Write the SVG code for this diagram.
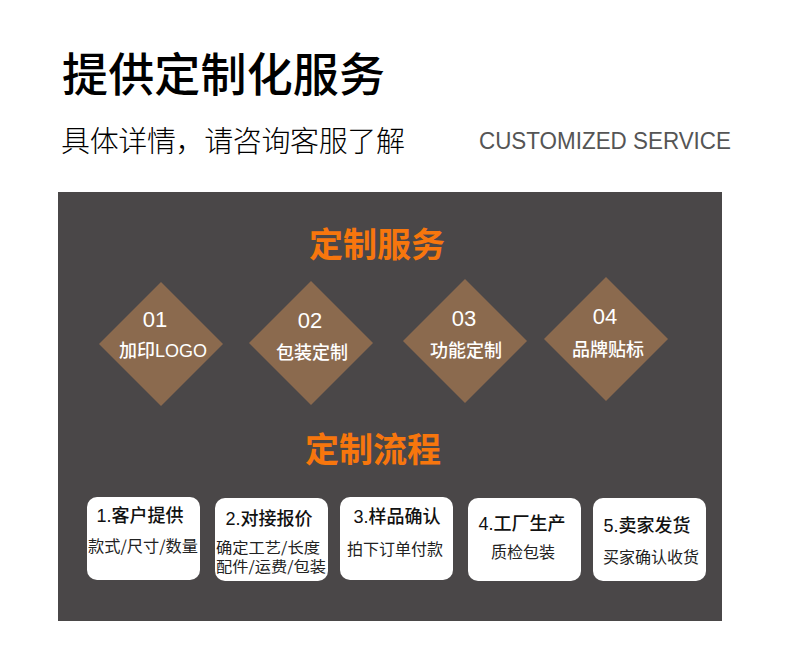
<svg xmlns="http://www.w3.org/2000/svg" width="790" height="671" viewBox="0 0 790 671">
<style>
.h1{font-family:"Noto Sans CJK SC",sans-serif;font-size:46px;font-weight:500;fill:#000}
.sub{font-family:"Noto Sans CJK SC",sans-serif;font-size:29px;font-weight:300;fill:#000}
.en{font-family:"Liberation Sans",Arial,sans-serif;font-size:23px;fill:#555}
.sec{font-family:"Noto Sans CJK SC",sans-serif;font-size:34px;font-weight:700;fill:#f7760d;text-anchor:middle}
.dia{fill:#8b6a4e}
.num{font-family:"Liberation Sans",Arial,sans-serif;font-size:22px;fill:#fff;text-anchor:middle}
.dl{font-family:"Liberation Sans","Noto Sans CJK SC",sans-serif;font-size:18px;font-weight:500;fill:#fff;text-anchor:middle}
.box{fill:#fff}
.bt{font-family:"Liberation Sans","Noto Sans CJK SC",sans-serif;font-size:18px;font-weight:500;fill:#111;text-anchor:middle}
.bd{font-family:"Noto Sans CJK SC",sans-serif;font-size:16px;font-weight:400;fill:#222;text-anchor:middle}
.bs{font-family:"Noto Sans CJK SC",sans-serif;font-size:15px;font-weight:400;fill:#222;text-anchor:middle}
</style>
<rect width="790" height="671" fill="#fff"/>
<text class="h1" x="62" y="91" textLength="323" lengthAdjust="spacing">提供定制化服务</text>
<text class="sub" x="61" y="152" textLength="344" lengthAdjust="spacing">具体详情，请咨询客服了解</text>
<text class="en" x="479" y="149" textLength="252" lengthAdjust="spacingAndGlyphs">CUSTOMIZED SERVICE</text>
<rect x="58" y="192" width="664" height="429" fill="#4a4748"/>
<text class="sec" x="377" y="257">定制服务</text>
<g id="d1"><polygon class="dia" points="161,282 223,344 161,406 99,344"/><text class="num" x="155" y="327">01</text><text class="dl" x="163" y="357">加印LOGO</text></g>
<g id="d2"><polygon class="dia" points="311,281 373,343 311,405 249,343"/><text class="num" x="310" y="328">02</text><text class="dl" x="312" y="359">包装定制</text></g>
<g id="d3"><polygon class="dia" points="465,279 527,341 465,403 403,341"/><text class="num" x="464" y="326">03</text><text class="dl" x="466" y="357">功能定制</text></g>
<g id="d4"><polygon class="dia" points="606,277 668,339 606,401 544,339"/><text class="num" x="605" y="324">04</text><text class="dl" x="608" y="356">品牌贴标</text></g>
<text class="sec" x="373" y="462">定制流程</text>
<g id="s1"><rect class="box" x="87" y="497" width="113" height="83" rx="10"/><text class="bt" x="140" y="522">1.客户提供</text><text class="bd" x="143" y="552" textLength="110" lengthAdjust="spacingAndGlyphs">款式/尺寸/数量</text></g>
<g id="s2"><rect class="box" x="215" y="498" width="113" height="83" rx="10"/><text class="bt" x="269" y="525">2.对接报价</text><text class="bs" x="268" y="553" textLength="104" lengthAdjust="spacingAndGlyphs">确定工艺/长度</text><text class="bs" x="271" y="572" textLength="110" lengthAdjust="spacingAndGlyphs">配件/运费/包装</text></g>
<g id="s3"><rect class="box" x="340" y="497" width="113" height="83" rx="10"/><text class="bt" x="397" y="523">3.样品确认</text><text class="bd" x="395" y="555">拍下订单付款</text></g>
<g id="s4"><rect class="box" x="468" y="498" width="113" height="83" rx="10"/><text class="bt" x="522" y="530">4.工厂生产</text><text class="bd" x="523" y="558">质检包装</text></g>
<g id="s5"><rect class="box" x="593" y="498" width="113" height="83" rx="10"/><text class="bt" x="647" y="532">5.卖家发货</text><text class="bd" x="651" y="563">买家确认收货</text></g>
<g id="connectors"/>
</svg>
